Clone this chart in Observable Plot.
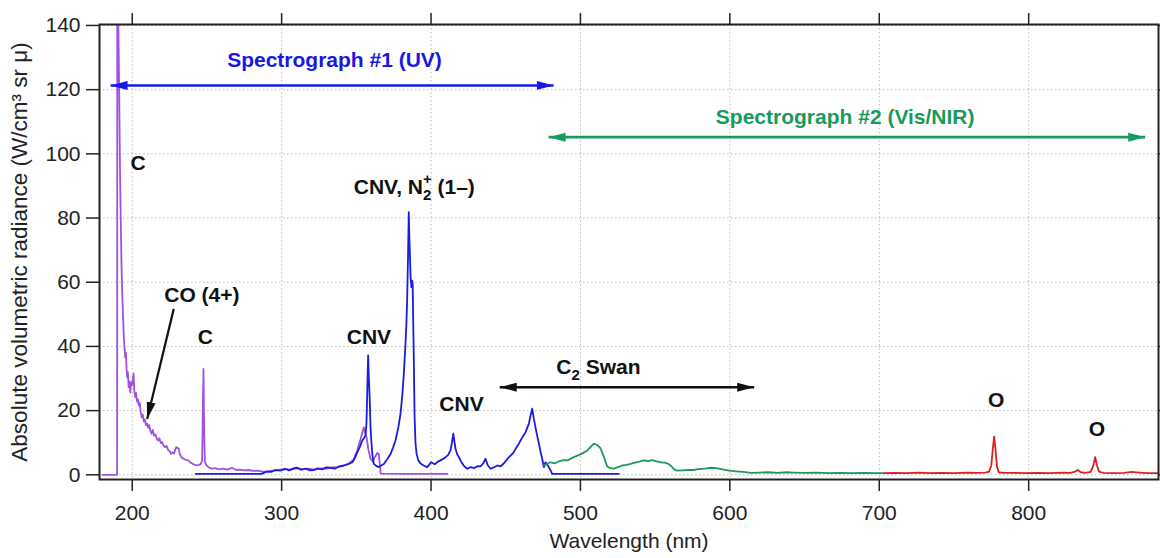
<!DOCTYPE html>
<html><head><meta charset="utf-8">
<script src="https://cdn.jsdelivr.net/npm/d3@7"></script>
<script src="https://cdn.jsdelivr.net/npm/@observablehq/plot@0.6"></script>
<style>html,body{margin:0;padding:0;background:#fff}svg{display:block}</style>
</head><body><div id="chart"></div>
<script>
// ---- data: [wavelength nm, radiance] ----
const uvShort = [[180,0],[189.9,0],[190.0,141],[190.7,141],[191.3,118],[191.8,96],[192.3,80],[192.8,66],[193.3,57],[193.8,50],[194.3,44],[194.8,40],[195.3,36.6],[195.8,38],[196.2,33],[196.6,30.4],[197.1,32],[197.6,27.3],[198.2,29],[198.7,25.7],[199.2,28.8],[199.7,27.8],[200.3,29.5],[200.9,31.5],[201.4,26],[202,24.2],[202.6,25.5],[203.2,22.8],[203.8,23.5],[204.4,21.6],[205,22.4],[205.7,19.6],[206.4,17.9],[207,18.8],[207.8,16.6],[208.5,17.2],[209.2,15.4],[209.9,16],[210.7,14.7],[211.4,15.5],[212.2,13.6],[213,12.8],[213.8,14],[214.6,12.2],[215.5,12.6],[216.4,11.3],[217.3,10.7],[218.2,11.4],[219.1,9.9],[220,10.2],[221,9.1],[222,8.6],[223,9],[224,7.8],[225,7.4],[226,6.5],[227,7],[228,6.6],[228.8,7.8],[229.5,8.6],[230.3,8.4],[231,8.2],[231.8,6.6],[232.8,5.5],[233.8,5.2],[235,4.9],[236.3,4.6],[237.7,4.5],[239,3.8],[240.2,3.5],[241.5,3.2],[243.2,2.9],[244.5,3.1],[245.8,3.3],[246.8,4.5],[247.3,22],[247.7,33],[248.1,15],[248.6,4.2],[249.5,3.1],[251,2.4],[253.3,1.9],[255.5,2.1],[258,1.7],[261,1.9],[264,1.6],[266.7,2.2],[269.5,1.5],[272,1.6],[275,1.4],[277.8,1.5],[281,1.2],[284,1.3],[287,1.0],[290,1.1],[294,1.3],[298,1.5],[302,1.8],[306,1.6],[310,2.1],[314,1.7],[318,1.9],[322,1.6],[326,2.0],[330,1.9],[334,2.3],[338,2.5],[342,2.9],[345,3.5],[348,4.6],[350.5,7.5],[352.5,10.5],[354,13.2],[355,14.8],[356,13],[357,11.3],[358,8],[359.5,5],[361,4.2],[362.5,5.6],[364,6.8],[365,6.5],[365.8,3],[366.3,0.4],[380,0.3],[395,0.3],[411,0.3]];

const uvMain = [[242.5,0.3],[286.5,0.3],[288,0.6],[290,1.0],[293,0.9],[296,1.5],[299.3,1.3],[302.4,1.9],[305,1.4],[308,2.0],[310.4,2.2],[313,1.6],[316,1.9],[319,1.4],[321.6,1.5],[324,2.0],[327,1.7],[330,2.3],[332.7,2.2],[335.5,1.9],[338.5,2.6],[341.6,2.9],[344.5,3.3],[347.3,3.9],[349,5.2],[350.6,7],[352.3,8.6],[354,10.7],[355.2,11.5],[356.1,12.2],[356.8,16],[357.4,28],[357.9,37.2],[358.4,30],[359,23],[359.5,15],[360,10.7],[360.8,6],[361.7,3.4],[363.3,2.8],[365,2.4],[366.7,2.9],[368.4,3.4],[370.5,4.8],[372.9,6.5],[374.5,8.4],[376.2,10.7],[378,14.5],[379.6,19.1],[380.8,25],[381.8,31.5],[382.9,40.8],[383.5,47],[384,54.3],[384.6,68],[385.1,81.8],[385.5,74],[385.8,69.9],[386.3,61.6],[386.9,58.4],[387.4,60.5],[387.7,59.6],[388.1,47],[388.4,38],[389,17.9],[389.6,10],[390.3,6.6],[391.5,4.5],[393,3.5],[395,2.9],[397.5,2.4],[400,3.9],[402.5,3.3],[405,4.2],[407.5,4.8],[409.7,5.5],[411.5,6.2],[413,7.6],[414,10],[414.9,12.8],[415.6,10.5],[416.4,8.1],[417.5,6.4],[418.6,5.5],[420.5,3.8],[422.4,2.6],[424.2,1.9],[426.5,2.4],[429,2.1],[431,2.7],[433.1,2.6],[435,3.6],[436.5,5],[438,3],[439.8,1.9],[442,2.3],[444.3,2.9],[446.5,2.6],[448.8,3.6],[451,4.9],[453.2,6],[455,6.8],[457,8.4],[458.8,9.7],[460.5,11.2],[462,12.3],[463.3,13.3],[464.5,14.8],[465.5,15.9],[466.6,18.5],[467.7,20.6],[468.8,17.5],[469.9,14.8],[471,12.3],[472.2,9.7],[473.3,7.2],[474.4,5],[475.5,2.4],[476.6,3.9],[477.7,3.2],[478.8,2.4],[480,1.4],[481.1,0.3],[525.7,0.3]];

const visSeries = [[475.1,2.9],[477,3.3],[480,3.9],[483,3.6],[486,4.3],[488.9,4.6],[491.5,4.5],[494.5,5.3],[497.9,6],[501,6.6],[504.6,7.6],[507,8.8],[509,9.7],[511.2,9.3],[513.5,8.2],[515.7,5.5],[517.9,2.6],[520,2.1],[522.4,1.9],[525,2.4],[528,2.9],[531,3.1],[533.5,3.4],[536.5,3.8],[539.5,4.1],[542.2,4.5],[545,4.3],[548,4.6],[551,4.2],[554.1,3.9],[556.5,3.8],[558.9,3.4],[561,2.6],[562.8,1.7],[564.8,1.3],[568,1.4],[572,1.5],[575.6,1.5],[579,1.8],[583,1.9],[587.5,2.2],[591,2.1],[595,1.7],[599.5,1.3],[604,1.1],[609,0.9],[613.9,0.6],[620,0.7],[626,0.8],[632,0.6],[638,0.8],[642.6,0.7],[650,0.6],[658,0.7],[666,0.5],[674,0.6],[682,0.5],[690,0.6],[697,0.5],[703.5,0.5]];

const nirSeries = [[703.5,0.5],[710,0.6],[718,0.5],[726,0.7],[734,0.5],[742,0.6],[750,0.5],[758,0.7],[765,0.6],[771,0.7],[773.5,1.0],[775,3],[776,8],[776.9,11.9],[777.8,8],[778.8,2.5],[780,0.8],[783,0.6],[790,0.6],[798,0.5],[806,0.6],[814,0.5],[822,0.7],[828,0.6],[831,1.0],[833,1.5],[834.8,0.8],[838,0.6],[841.5,0.9],[843.2,2.8],[844.5,5.5],[845.7,3],[847,1.0],[850,0.6],[857,0.5],[864,0.6],[869,0.9],[874,0.7],[880,0.5],[887,0.5]];

const xTicks = [200, 300, 400, 500, 600, 700, 800];
const yTicks = [0, 20, 40, 60, 80, 100, 120, 140];

// annotation labels (data coordinates, centred)
const labelTexts = ["Spectrograph #1 (UV)", "Spectrograph #2 (Vis/NIR)", "C", "CO (4+)", "C", "CNV", "CNV", "C2 Swan", "O", "O"];
const labelX =     [335.4, 677.2, 204, 246.6, 249, 358.4, 420.4, 512, 778.2, 845.7];
const labelY =     [129.1, 111.4, 97.2, 55.9, 42.7, 42.9, 22.1, 33.5, 23.2, 14.3];
const labelKind =  ["uv", "vis", "k", "k", "k", "k", "k", "k", "k", "k"];
// left-anchored label
const bandLabel = [{text: "CNV, N2+ (1–)", x: 348.3, y: 89.6}];

// arrows
const doubleArrows = [
  {x1: 482, y1: 121.3, x2: 185.5, y2: 121.3, kind: "uv"},
  {x1: 478.7, y1: 105.2, x2: 878, y2: 105.2, kind: "vis"},
  {x1: 446, y1: 27.3, x2: 616.3, y2: 27.3, kind: "k"}
];
const singleArrows = [{x1: 227.8, y1: 51.7, x2: 210, y2: 17.4, kind: "k"}];

const colors = {purple: "#9d52e3", blue: "#1c1ce0", green: "#1f985c", red: "#df1f1f"};
const kindColor = {uv: "#1717e6", vis: "#189a5a", k: "#111"};

function solidHead(color) {
  const ns = "http://www.w3.org/2000/svg";
  const m = document.createElementNS(ns, "marker");
  m.setAttribute("viewBox", "-17 -5 18 10");
  m.setAttribute("markerWidth", 18);
  m.setAttribute("markerHeight", 10);
  m.setAttribute("markerUnits", "userSpaceOnUse");
  m.setAttribute("orient", "auto-start-reverse");
  m.setAttribute("refX", 0);
  m.setAttribute("refY", 0);
  const p = document.createElementNS(ns, "path");
  p.setAttribute("d", "M-17,-4.5L0,0L-17,4.5Z");
  p.setAttribute("fill", color);
  p.setAttribute("stroke", "none");
  m.appendChild(p);
  return m;
}

const labels = labelTexts.map((t, i) => ({text: t, x: labelX[i], y: labelY[i], color: kindColor[labelKind[i]]}));
const arrows2 = doubleArrows.map(a => ({...a, color: kindColor[a.kind]}));
const arrows1 = singleArrows.map(a => ({...a, color: kindColor[a.kind]}));

const yTitle = "Absolute volumetric radiance (W/cm³ sr μ)";
const lineOpts = (c) => ({x: d => d[0], y: d => d[1], stroke: c, strokeWidth: 1.8, clip: true});
const gridStyle = {stroke: "#aaa", strokeOpacity: 0.8, strokeDasharray: "1.5,2.5", strokeWidth: 1};

const svg = Plot.plot({
  width: 1160, height: 558,
  marginLeft: 99, marginRight: 2, marginTop: 24, marginBottom: 79,
  x: {domain: [178.1, 886.9]},
  y: {domain: [-1.46, 140.3]},
  style: {fontFamily: "'Liberation Sans', Arial, Helvetica, sans-serif", fontSize: "21px", color: "#222", background: "#fff", overflow: "visible"},
  marks: [
    Plot.gridX({ticks: xTicks, ...gridStyle}),
    Plot.gridY({ticks: yTicks, ...gridStyle}),
    Plot.line(uvShort, lineOpts(colors.purple)),
    Plot.line(uvMain, lineOpts(colors.blue)),
    Plot.line(visSeries, lineOpts(colors.green)),
    Plot.line(nirSeries, lineOpts(colors.red)),
    Plot.axisX({ticks: xTicks, anchor: "bottom", tickSize: 12, tickPadding: 14, fontSize: 21, stroke: "#222", strokeWidth: 1.5,
      label: "Wavelength (nm)", labelAnchor: "center", labelOffset: 68, labelArrow: false}),
    Plot.axisX({ticks: xTicks, anchor: "top", tickSize: 12, tickFormat: () => "", label: null, stroke: "#222", strokeWidth: 1.5}),
    Plot.axisY({ticks: yTicks, anchor: "left", tickSize: 13, tickPadding: 6, fontSize: 21, stroke: "#222", strokeWidth: 1.5,
      label: yTitle, labelAnchor: "center", labelOffset: 88, labelArrow: false}),
    Plot.axisY({ticks: yTicks, anchor: "right", tickSize: 12, tickFormat: () => "", label: null, stroke: "#222", strokeWidth: 1.5}),
    Plot.frame({stroke: "#222", strokeWidth: 2}),
    Plot.link(arrows2, {x1: "x1", y1: "y1", x2: "x2", y2: "y2", stroke: "color", strokeWidth: 2.6, markerStart: solidHead, markerEnd: solidHead}),
    Plot.link(arrows1, {x1: "x1", y1: "y1", x2: "x2", y2: "y2", stroke: "color", strokeWidth: 2.2, markerEnd: solidHead}),
    Plot.text(labels, {x: "x", y: "y", text: "text", fill: "color", textAnchor: "middle", fontWeight: "bold", fontSize: 21}),
    Plot.text(bandLabel, {x: "x", y: "y", text: "text", fill: "#111", textAnchor: "start", fontWeight: "bold", fontSize: 21})
  ]
});

// rich text: subscripts / superscripts; y title size
d3.select(svg).selectAll("text").each(function () {
  const t = this.textContent;
  const sel = d3.select(this);
  if (t === "CNV, N2+ (1–)") {
    sel.text(null);
    sel.append("tspan").text("CNV, N");
    sel.append("tspan").attr("font-size", 15).attr("dy", 6).text("2");
    sel.append("tspan").attr("font-size", 15).attr("dx", -8.5).attr("dy", -16).text("+");
    sel.append("tspan").attr("dy", 10).text(" (1–)");
  } else if (t === "C2 Swan") {
    sel.text(null);
    sel.append("tspan").text("C");
    sel.append("tspan").attr("font-size", 15).attr("dy", 6).text("2");
    sel.append("tspan").attr("dy", -6).text(" Swan");
  } else if (t === yTitle) {
    sel.attr("font-size", 22.5);
  }
});

document.getElementById("chart").appendChild(svg);
</script>
</body></html>
